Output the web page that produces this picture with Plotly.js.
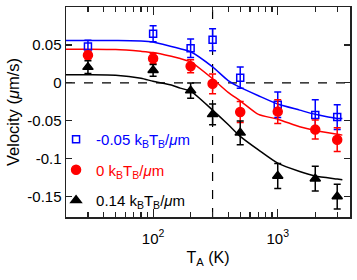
<!DOCTYPE html>
<html>
<head>
<meta charset="utf-8">
<script src="https://cdn.plot.ly/plotly-3.0.1.min.js"></script>
<style>html,body{margin:0;padding:0;background:#fff;}#chart{width:357px;height:280px;}</style>
</head>
<body>
<div id="chart"></div>
<script>
// Measured temperatures (K)
const tempsK = [30, 100, 200, 300, 500, 1000, 2000, 3000];

// Series: -0.05 kBTB/um (blue, open squares)
const velBlue = [0.048, 0.0647, 0.0456, 0.0567, 0.0067, -0.029, -0.0425, -0.0452];
const errBlue = [0.008, 0.0107, 0.0123, 0.0145, 0.014, 0.0168, 0.020, 0.0163];

// Series: 0 kBTB/um (red, filled circles)
const velRed = [0.0365, 0.032, 0.0218, -0.0013, -0.0385, -0.038, -0.0617, -0.075];
const errRed = [0.005, 0.0067, 0.0085, 0.013, 0.014, 0.0157, 0.0125, 0.0157];

// Series: 0.14 kBTB/um (black, triangles)
const velBlack = [0.0207, 0.0165, -0.0103, -0.0416, -0.066, -0.123, -0.1265, -0.150];
const errBlack = [0.0083, 0.0078, 0.010, 0.0138, 0.0157, 0.0165, 0.0163, 0.0163];

// Model curves
const curveT = [20, 30, 50, 80, 100, 140, 165, 200, 300, 400, 500, 700, 1000, 1500, 2000, 3000, 3300];
const curveBlue = [0.0558, 0.0558, 0.0557, 0.0552, 0.0538, 0.048, 0.045, 0.041, 0.021, 0.003, -0.006, -0.017, -0.028, -0.036, -0.0416, -0.047, -0.047];
const curveRed = [0.0442, 0.0442, 0.0438, 0.0415, 0.040, 0.035, 0.032, 0.0276, 0.0054, -0.0126, -0.0237, -0.0416, -0.048, -0.058, -0.063, -0.068, -0.069];
const curveBlack = [0.0105, 0.0105, 0.010, 0.006, 0.002, -0.003, -0.007, -0.011, -0.036, -0.055, -0.0706, -0.0885, -0.106, -0.117, -0.123, -0.127, -0.128];

// Labels
const legendLabels = [
  '-0.05 k<sub>B</sub>T<sub>B</sub>/<i>μ</i>m',
  '0 k<sub>B</sub>T<sub>B</sub>/<i>μ</i>m',
  '0.14 k<sub>B</sub>T<sub>B</sub>/<i>μ</i>m'
];
const yTickVals = [-0.15, -0.1, -0.05, 0, 0.05, 0.1];
const yTickText = ['-0.15', '-0.1', '-0.05', '0', '0.05', '0.1'];
const xMajorVals = [100, 1000];
const xMajorText = ['10<sup>2</sup>', '10<sup>3</sup>'];
const xMinorVals = [20, 30, 40, 50, 60, 70, 80, 90, 200, 300, 400, 500, 600, 700, 800, 900, 2000, 3000];
const refTemp = 300;
const refVel = 0;
const xRangeK = [20, 3800];
const yRange = [-0.177, 0.1];

const BLUE = '#0000ff', RED = '#ff0000', BLACK = '#000000';
const FONT = 'Liberation Sans, Arial, sans-serif';

function curve(y, color) {
  return {x: curveT, y: y, type: 'scatter', mode: 'lines', line: {color: color, width: 1.5, shape: 'spline', smoothing: 0.6}, showlegend: false, hoverinfo: 'skip'};
}
function pts(y, err, color, symbol, size, name, group) {
  return {x: tempsK, y: y, type: 'scatter', mode: 'markers',
    name: '<span style="color:' + color + '">' + name + '</span>', legendgroup: group,
    marker: {color: color, symbol: symbol, size: size, line: {color: color, width: 1.5}},
    error_y: {type: 'data', array: err, visible: true, color: color, thickness: 1.5, width: 3.5}};
}

const data = [
  curve(curveBlue, BLUE), curve(curveRed, RED), curve(curveBlack, BLACK),
  pts(velBlue, errBlue, BLUE, 'square-open', 7, legendLabels[0], 'g1'),
  pts(velRed, errRed, RED, 'circle', 9, legendLabels[1], 'g2'),
  pts(velBlack, errBlack, BLACK, 'triangle-up', 9, legendLabels[2], 'g3')
];

const layout = {
  width: 357, height: 280,
  margin: {l: 66, r: 7, t: 7, b: 63},
  paper_bgcolor: '#fff', plot_bgcolor: '#fff',
  font: {family: FONT, size: 15, color: '#000'},
  showlegend: true,
  legend: {x: -0.035, y: 0.0, xanchor: 'left', yanchor: 'bottom', bgcolor: 'rgba(0,0,0,0)', font: {family: FONT, size: 15}, itemwidth: 30, tracegroupgap: 8, traceorder: 'grouped'},
  xaxis: {
    type: 'log', range: [Math.log10(xRangeK[0]), Math.log10(xRangeK[1])],
    tickmode: 'array', tickvals: xMajorVals, ticktext: xMajorText,
    ticks: 'inside', ticklen: 8, tickwidth: 1.2, tickcolor: '#222',
    minor: {tickmode: 'array', tickvals: xMinorVals, ticks: 'inside', ticklen: 5, tickwidth: 1.2, tickcolor: '#222', showgrid: false},
    showline: true, linecolor: '#222', linewidth: 1.5, mirror: 'ticks',
    showgrid: false, zeroline: false,
    tickfont: {family: FONT, size: 15}, ticklabelstandoff: 7,
    title: {text: 'T<sub>A</sub> (K)', font: {family: FONT, size: 16}, standoff: 6}
  },
  yaxis: {
    range: yRange, tickmode: 'array', tickvals: yTickVals, ticktext: yTickText,
    ticks: 'inside', ticklen: 6, tickwidth: 1.2, tickcolor: '#222',
    showline: true, linecolor: '#222', linewidth: 1.5, mirror: 'ticks',
    showgrid: false, zeroline: false,
    tickfont: {family: FONT, size: 15},
    title: {text: 'Velocity (<i>μ</i>m/s)', font: {family: FONT, size: 16.5}, standoff: 3}
  },
  shapes: [
    {type: 'line', xref: 'x', yref: 'paper', x0: refTemp, x1: refTemp, y0: 0, y1: 1, line: {color: '#000', width: 1.2, dash: 'dash'}, layer: 'below'},
    {type: 'line', xref: 'paper', yref: 'y', x0: 0, x1: 1, y0: refVel, y1: refVel, line: {color: '#000', width: 1.2, dash: 'dash'}, layer: 'below'}
  ]
};

Plotly.newPlot('chart', data, layout, {displayModeBar: false, staticPlot: true});
</script>
</body>
</html>
